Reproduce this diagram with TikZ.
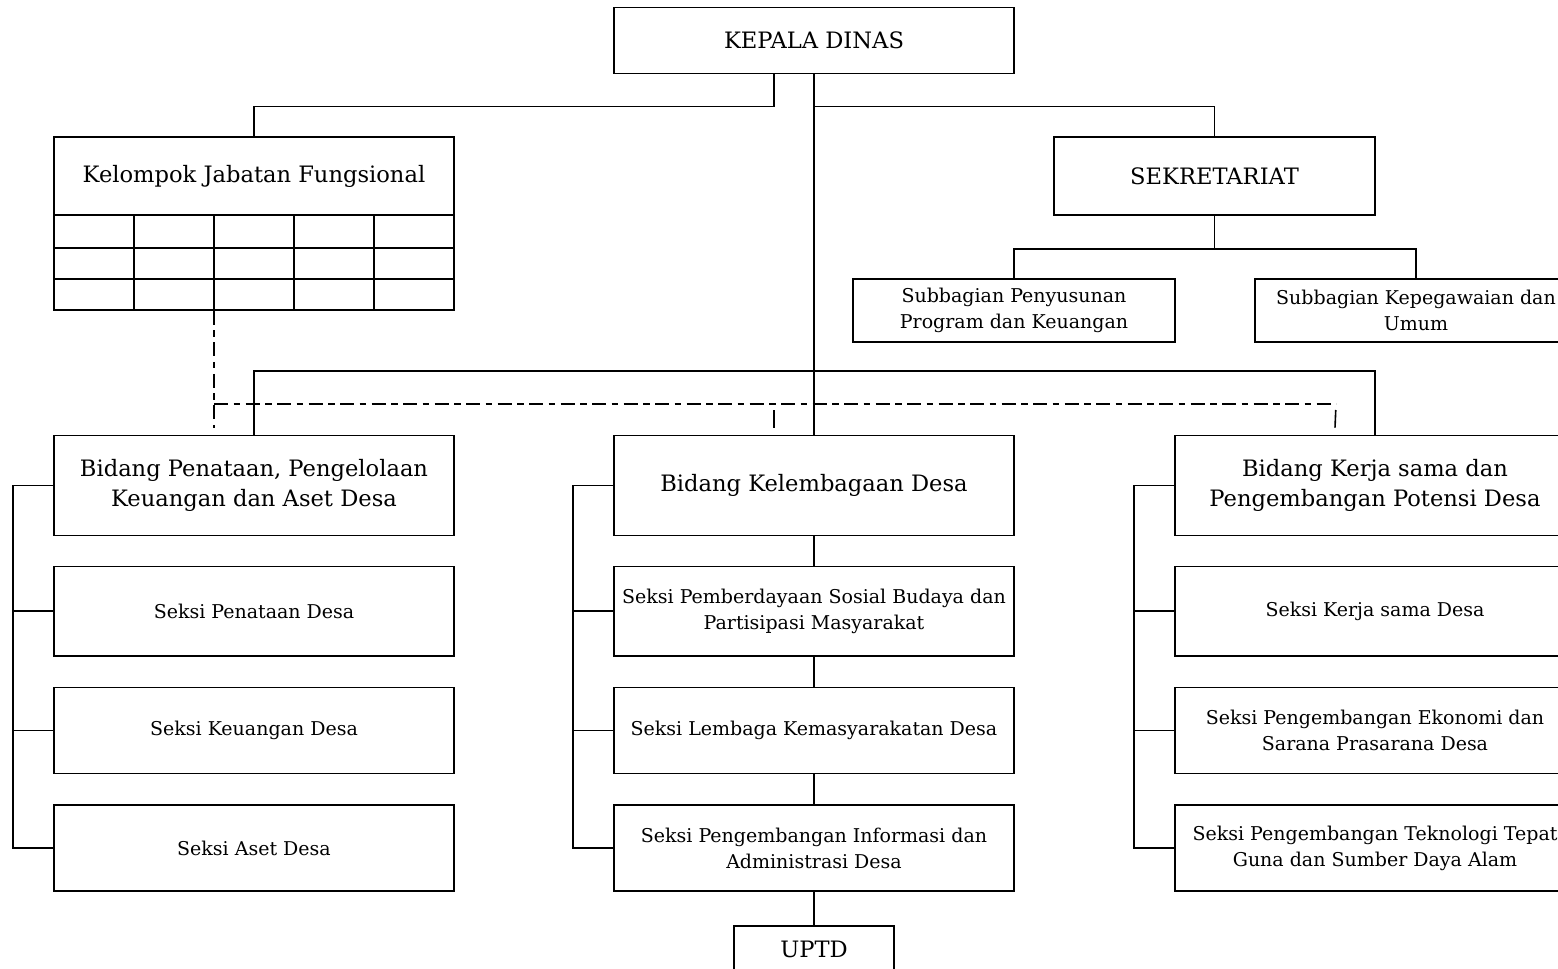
\documentclass[tikz,border=0pt]{standalone}
\usepackage{fontspec}
\setmainfont{DejaVu Serif}
\begin{document}
\begin{tikzpicture}[x=0.5pt,y=-0.5pt,line width=0.8pt,
	orgbox/.style={draw,align=center,inner sep=0pt},
	topbox/.style={orgbox,font=\fontsize{11.3}{15}\selectfont},
	subbox/.style={orgbox,font=\fontsize{9.5}{13}\selectfont},
	fungline/.style={dash pattern=on 7pt off 2.75pt on 3.25pt off 2.75pt},
	fungtick/.style={dash pattern=on 0pt off 3pt on 12pt}]
	\useasboundingbox (0,0) rectangle (1558,969);
	
	\node[topbox,minimum width=200pt,minimum height=33pt] (kadis) at (814,40.5){KEPALA DINAS};
	
	\node[topbox,minimum width=200pt,minimum height=39pt] (jabfung) at (254,176){Kelompok Jabatan Fungsional};
	\node[orgbox,minimum width=200pt,minimum height=47.5pt] (jabtab) at (254,262.5){};
	\draw (54,248) -- (454,248);
	\draw (54,279) -- (454,279);
	\draw (134,215) -- (134,310);
	\draw (214,215) -- (214,310);
	\draw (294,215) -- (294,310);
	\draw (374,215) -- (374,310);
	
	\node[topbox,minimum width=160.5pt,minimum height=39pt] (sekre) at (1214.5,176){SEKRETARIAT};
	\node[subbox,minimum width=161pt,minimum height=31.5pt] (subprog) at (1014,310.5){Subbagian Penyusunan\\Program dan Keuangan};
	\node[subbox,minimum width=161pt,minimum height=31.5pt] (subumum) at (1416,310.5){Subbagian Kepegawaian dan\\Umum};
	
	\node[topbox,minimum width=200pt,minimum height=50pt] (bid1) at (254,485.5){Bidang Penataan, Pengelolaan\\Keuangan dan Aset Desa};
	\node[subbox,minimum width=200pt,minimum height=44.75pt] (s11) at (254,611.25){Seksi Penataan Desa};
	\node[subbox,minimum width=200pt,minimum height=43pt] (s12) at (254,730.5){Seksi Keuangan Desa};
	\node[subbox,minimum width=200pt,minimum height=43pt] (s13) at (254,848){Seksi Aset Desa};
	
	\node[topbox,minimum width=200pt,minimum height=50pt] (bid2) at (814,485.5){Bidang Kelembagaan Desa};
	\node[subbox,minimum width=200pt,minimum height=44.75pt] (s21) at (814,611.25){Seksi Pemberdayaan Sosial Budaya dan\\Partisipasi Masyarakat};
	\node[subbox,minimum width=200pt,minimum height=43pt] (s22) at (814,730.5){Seksi Lembaga Kemasyarakatan Desa};
	\node[subbox,minimum width=200pt,minimum height=43pt] (s23) at (814,848){Seksi Pengembangan Informasi dan\\Administrasi Desa};
	\node[topbox,minimum width=80pt,minimum height=23pt] (uptd) at (814,949){UPTD};
	
	\node[topbox,minimum width=200pt,minimum height=50pt] (bid3) at (1375,485.5){Bidang Kerja sama dan\\Pengembangan Potensi Desa};
	\node[subbox,minimum width=200pt,minimum height=44.75pt] (s31) at (1375,611.25){Seksi Kerja sama Desa};
	\node[subbox,minimum width=200pt,minimum height=43pt] (s32) at (1375,730.5){Seksi Pengembangan Ekonomi dan\\Sarana Prasarana Desa};
	\node[subbox,minimum width=200pt,minimum height=43pt] (s33) at (1375,848){Seksi Pengembangan Teknologi Tepat\\Guna dan Sumber Daya Alam};
	
	\draw ([xshift=-20pt]kadis.south) -- ++(0,32) -| (jabfung.north);
	\draw (kadis.south) -- (bid2.north);
	\draw (kadis.south) ++(0,32) -| (sekre.north);
	\draw (sekre.south) -- ++(0,33) coordinate (sekrejoin);
	\draw (subprog.north) |- (sekrejoin) -| (subumum.north);
	\draw (bid1.north) -- ++(0,-63.5) -| (bid3.north);
	
	\draw[fungline] ([xshift=-20pt]jabtab.south) -- ([xshift=-20pt,yshift=3.5pt]bid1.north);
	\draw[fungline] (214,404) coordinate (fungL) -- (1336,404) coordinate (fungR);
	\draw[fungtick] (774,404) -- ([xshift=-20pt,yshift=3.5pt]bid2.north);
	\draw[fungtick] (fungR) -- ([xshift=-20pt,yshift=3.5pt]bid3.north);
	
	\draw (bid1.west) -- ++(-40,0) |- (s13.west);
	\draw (s11.west) -- ++(-40,0);
	\draw (s12.west) -- ++(-40,0);
	
	\draw (bid2.west) -- ++(-40,0) |- (s23.west);
	\draw (s21.west) -- ++(-40,0);
	\draw (s22.west) -- ++(-40,0);
	\draw (bid2.south) -- (s21.north);
	\draw (s21.south) -- (s22.north);
	\draw (s22.south) -- (s23.north);
	\draw (s23.south) -- (uptd.north);
	
	\draw (bid3.west) -- ++(-40,0) |- (s33.west);
	\draw (s31.west) -- ++(-40,0);
	\draw (s32.west) -- ++(-40,0);
\end{tikzpicture}
\end{document}
